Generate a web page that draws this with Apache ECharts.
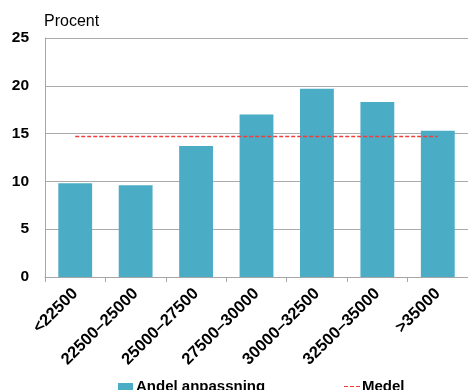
<!DOCTYPE html>
<html>
<head>
<meta charset="utf-8">
<script src="https://cdn.jsdelivr.net/npm/echarts@6/dist/echarts.min.js"></script>
<style>
  html, body { margin: 0; padding: 0; background: #fff; }
  #chart { width: 468px; height: 390px; }
</style>
</head>
<body>
<div id="chart"></div>
<script>
// Income brackets (kr) and share of adjustments per bracket, in percent
var categories = ['<22500', '22500\u201325000', '25000\u201327500', '27500\u201330000', '30000\u201332500', '32500\u201335000', '>35000'];
var andelAnpassning = [9.8, 9.6, 13.7, 17.0, 19.7, 18.3, 15.3];
var medel = [14.7, 14.7, 14.7, 14.7, 14.7, 14.7, 14.7];
var yTicks = [0, 5, 10, 15, 20, 25];

var FONT = 'Liberation Sans, Arial, sans-serif';
var RED = '#f23c3c';
var chart = echarts.init(document.getElementById('chart'), null, { renderer: 'canvas' });

// three short dashes, used as the legend key of the mean line
var dashIcon = 'path://M0,0H4V1H0Z M6,0H10V1H6Z M12,0H16V1H12Z';

function legendText(padLeft) {
  return {
    fontFamily: FONT, fontWeight: 'bold', fontSize: 15, color: '#000',
    padding: [10, 0, 0, padLeft]
  };
}

chart.setOption({
  animation: false,
  backgroundColor: '#ffffff',
  textStyle: { fontFamily: FONT },
  grid: { left: 45, right: 0, top: 38, bottom: 113, containLabel: false },
  legend: [
    {
      data: [{ name: 'Andel anpassning', icon: 'rect' }],
      left: 118, top: 379, padding: 0,
      itemWidth: 15, itemHeight: 7,
      textStyle: legendText(-2)
    },
    {
      data: [{ name: 'Medel', icon: dashIcon, itemStyle: { color: RED } }],
      left: 344, top: 379, padding: 0,
      itemWidth: 16, itemHeight: 1.5,
      textStyle: legendText(-3)
    }
  ],
  xAxis: {
    type: 'category',
    data: categories,
    boundaryGap: true,
    axisLine: { show: true, lineStyle: { color: '#a6a6a6', width: 1 } },
    axisTick: { show: true, length: 5, alignWithLabel: false, lineStyle: { color: '#a6a6a6' } },
    axisLabel: {
      rotate: 45, margin: 14, interval: 0,
      fontFamily: FONT, fontWeight: 'bold', fontSize: 16.5, color: '#000'
    },
    splitLine: { show: false }
  },
  yAxis: {
    type: 'value',
    min: yTicks[0], max: yTicks[yTicks.length - 1], interval: 5,
    name: 'Procent',
    nameLocation: 'end',
    nameGap: 8,
    nameTextStyle: { fontFamily: FONT, fontSize: 16, color: '#000', align: 'left', padding: [0, 0, 0, -1] },
    axisLine: { show: true, lineStyle: { color: '#a6a6a6', width: 1 } },
    axisTick: { show: false },
    axisLabel: { margin: 16, fontFamily: FONT, fontWeight: 'bold', fontSize: 15.5, color: '#000' },
    splitLine: { show: true, lineStyle: { color: '#aaaaaa', width: 1 } }
  },
  series: [
    {
      name: 'Andel anpassning',
      type: 'bar',
      data: andelAnpassning,
      barWidth: '56%',
      itemStyle: { color: '#4bacc6' }
    },
    {
      name: 'Medel',
      type: 'line',
      data: medel,
      symbol: 'none',
      showSymbol: false,
      lineStyle: { color: RED, width: 1.5, type: [4, 2] },
      itemStyle: { color: RED },
      z: 5
    }
  ]
});
</script>
</body>
</html>
